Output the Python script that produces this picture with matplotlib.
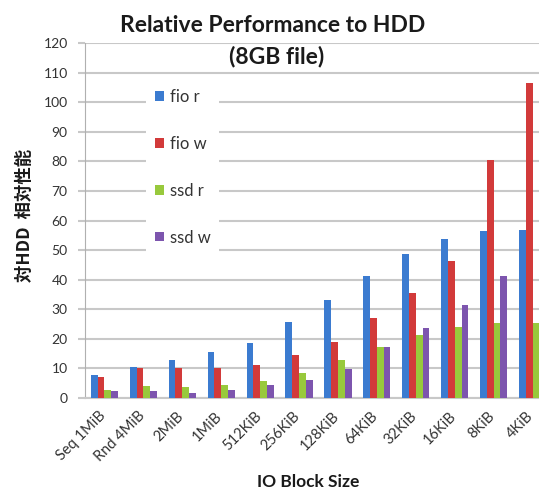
import matplotlib.pyplot as plt
import matplotlib.transforms as mtransforms
import numpy as np

# relative performance vs HDD, 8GB file
block_sizes = ['Seq 1MiB', 'Rnd 4MiB', '2MiB', '1MiB', '512KiB', '256KiB',
               '128KiB', '64KiB', '32KiB', '16KiB', '8KiB', '4KiB']
fio_r = [7.9, 10.6, 12.7, 15.4, 18.5, 25.6, 33.0, 41.3, 48.8, 53.9, 56.5, 56.8]
fio_w = [7.0, 10.3, 10.0, 10.3, 11.1, 14.5, 19.0, 26.9, 35.4, 46.4, 80.4, 106.6]
ssd_r = [2.6, 4.0, 3.7, 4.5, 5.9, 8.6, 12.8, 17.3, 21.2, 24.0, 25.2, 25.2]
ssd_w = [2.3, 2.3, 1.8, 2.6, 4.5, 6.1, 9.9, 17.3, 23.5, 31.3, 41.1, 50.8]
yticks = list(range(0, 121, 10))

series = [('fio r', fio_r, '#3b7bd0'),
          ('fio w', fio_w, '#d23a3a'),
          ('ssd r', ssd_r, '#98c93c'),
          ('ssd w', ssd_w, '#7d55ae')]

W, H = 539, 491
fig = plt.figure(figsize=(W / 100, H / 100), dpi=100)
plt.rcParams['font.family'] = ['Lato', 'DejaVu Sans']

# axes runs past the right edge of the figure
left, right, top, bottom = 85, 552, 43, 398
ax = fig.add_axes([left / W, 1 - bottom / H, (right - left) / W, (bottom - top) / H])

x = np.arange(len(block_sizes))
bw = 0.175
for i, (name, vals, col) in enumerate(series):
    ax.bar(x + (i - 1.5) * bw, vals, bw, color=col, label=name, zorder=3)

ax.set_xlim(-0.5, len(block_sizes) - 0.5)
ax.set_ylim(0, 120)
ax.set_yticks(yticks)
ax.yaxis.grid(True, color='#c8c8c8', linewidth=1.5, zorder=0)
ax.set_axisbelow(True)
for s in ['top', 'right']:
    ax.spines[s].set_visible(False)
ax.spines['left'].set_color('#b0b0b0')
ax.spines['bottom'].set_color('#c8c8c8')
ax.spines['bottom'].set_linewidth(1.5)
ax.tick_params(axis='y', length=5, color='#c8c8c8', width=1.5, labelsize=10,
               labelcolor='#333333', pad=7.5)
ax.tick_params(axis='x', length=0, pad=0)
ax.set_xticks(x)
ax.set_xticklabels(block_sizes, rotation=45, ha='right', va='top',
                   rotation_mode='anchor', fontsize=10.5, color='#333333')
# nudge rotated labels so their ends sit under the group centres
shift = mtransforms.ScaledTranslation(-6 / 100, -11 / 100, fig.dpi_scale_trans)
for lbl in ax.get_xticklabels():
    lbl.set_transform(lbl.get_transform() + shift)

fig.text(273 / W, 1 - 32 / H, 'Relative Performance to HDD', ha='center', va='baseline',
         fontsize=16.5, fontweight='bold', color='#1a1a1a')
fig.text(277 / W, 1 - 63 / H, '(8GB file)', ha='center', va='baseline',
         fontsize=16.5, fontweight='bold', color='#1a1a1a')
fig.text(308 / W, 1 - 482 / H, 'IO Block Size', ha='center', va='center',
         fontsize=12.5, fontweight='bold', color='#1a1a1a')
fig.text(25 / W, 1 - 215 / H, '対HDD  相対性能', ha='center', va='center', rotation=90,
         fontsize=12.5, fontweight='bold', color='#1a1a1a',
         family=['Noto Sans CJK JP', 'DejaVu Sans'])

leg = ax.legend(loc='upper left', bbox_to_anchor=(146 / W, 1 - 80 / H),
                bbox_transform=fig.transFigure, fontsize=12, frameon=True,
                fancybox=False, handlelength=0.5, handleheight=0.5,
                handletextpad=0.36, labelspacing=1.85, borderpad=0.55,
                borderaxespad=0)
leg.get_frame().set_facecolor('white')
leg.get_frame().set_edgecolor('none')
leg.get_frame().set_alpha(1)
for t in leg.get_texts():
    t.set_color('#333333')

fig.savefig('out.png', dpi=100)
